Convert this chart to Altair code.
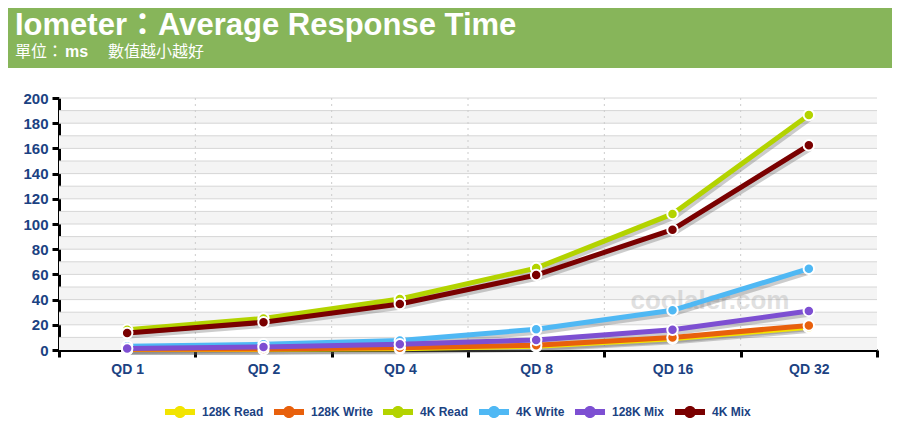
import altair as alt
import pandas as pd

# ---- data ----
qd_labels = ["QD 1", "QD 2", "QD 4", "QD 8", "QD 16", "QD 32"]
series_names = ["128K Read", "128K Write", "4K Read", "4K Write", "128K Mix", "4K Mix"]
series_colors = ["#f2e400", "#e8600c", "#b3d300", "#4fb8f4", "#7d4fd2", "#7a0000"]

read_128k = [0.3, 0.5, 1.0, 3.0, 9.0, 18.0]
write_128k = [0.5, 0.8, 1.8, 3.8, 10.0, 19.5]
read_4k = [16.0, 25.0, 40.5, 65.0, 108.0, 186.5]
write_4k = [3.0, 4.5, 7.5, 16.5, 31.5, 64.5]
mix_128k = [1.2, 2.4, 4.5, 8.0, 16.0, 31.0]
mix_4k = [13.5, 22.0, 36.5, 59.5, 95.5, 162.5]

title_text = "Iometer：Average Response Time"
sub_unit = "單位："
sub_ms = "ms"
sub_note = "數值越小越好"
watermark = "coolaler.com"

y_ticks = list(range(0, 201, 20))
y_grid = list(range(10, 201, 10))
band_lo = list(range(0, 200, 20))
x_bounds = [i - 0.5 for i in range(len(qd_labels) + 1)]

values = [read_128k, write_128k, read_4k, write_4k, mix_128k, mix_4k]
rows = []
for name, vals in zip(series_names, values):
    for i, (q, v) in enumerate(zip(qd_labels, vals)):
        rows.append({"series": name, "idx": i, "qd": q, "value": v})
df = pd.DataFrame(rows)

# ---- layout ----
W, H = 818, 252
PAD = {"left": 51, "top": 90, "right": 15, "bottom": 72}
FONT = "Liberation Sans, Arial, Noto Sans CJK TC, sans-serif"
BLUE = "#1b4282"

xscale = alt.Scale(domain=[-0.5, len(qd_labels) - 0.5], nice=False, zero=False)
yscale = alt.Scale(domain=[0, 200], nice=False)

label_arr = "[" + ",".join("'" + q + "'" for q in qd_labels) + "]"
xaxis = alt.Axis(
    values=x_bounds,
    labelExpr=label_arr + "[round(datum.value + 0.5)] || ''",
    labelOffset=W / len(qd_labels) / 2,
    labelFlush=False,
    labelOverlap=False,
    title=None,
    grid=False,
    domainColor="black",
    domainWidth=3,
    tickColor="black",
    tickWidth=3,
    tickSize=7,
    labelFont=FONT,
    labelFontSize=14,
    labelFontWeight="bold",
    labelColor=BLUE,
    labelPadding=5,
)
yaxis = alt.Axis(
    values=y_ticks,
    title=None,
    grid=False,
    domainColor="black",
    domainWidth=3,
    tickColor="black",
    tickWidth=3,
    tickSize=7,
    labelFont=FONT,
    labelFontSize=15,
    labelFontWeight="bold",
    labelColor=BLUE,
    labelPadding=4,
)

legend_path = "M-1,-0.2H1V0.2H-1Z M0.4,0A0.4,0.4 0 1,1 -0.4,0A0.4,0.4 0 1,1 0.4,0Z"
fill_enc = alt.Fill(
    "series:N",
    scale=alt.Scale(domain=series_names, range=series_colors),
    sort=series_names,
    legend=alt.Legend(
        title=None,
        orient="none",
        direction="horizontal",
        legendX=106,
        legendY=299,
        symbolType=legend_path,
        symbolSize=900,
        symbolStrokeWidth=0,
        labelFont=FONT,
        labelFontSize=12,
        labelFontWeight="bold",
        labelColor=BLUE,
        labelOffset=7,
        columnPadding=10,
    ),
)

X = alt.X("idx:Q", scale=xscale, axis=xaxis)
Y = alt.Y("value:Q", scale=yscale, axis=yaxis)

bands = alt.Chart(pd.DataFrame({"lo": band_lo, "hi": [b + 10 for b in band_lo]})).mark_rect(
    color="#f4f4f4"
).encode(y=alt.Y("lo:Q", scale=yscale, axis=yaxis), y2="hi:Q", x=alt.value(0), x2=alt.value(W))

hgrid = alt.Chart(pd.DataFrame({"g": y_grid})).mark_rule(color="#d6d6d6", strokeWidth=1).encode(
    y=alt.Y("g:Q", scale=yscale, axis=yaxis)
)

vgrid = alt.Chart(pd.DataFrame({"b": x_bounds[1:-1]})).mark_rule(
    color="#cccccc", strokeWidth=1, strokeDash=[2, 4]
).encode(x=alt.X("b:Q", scale=xscale, axis=xaxis))

dummy = pd.DataFrame({"a": [0]})
header = alt.Chart(dummy).mark_rect(color="#87b55a").encode(
    x=alt.value(-51), x2=alt.value(833), y=alt.value(-90), y2=alt.value(-30)
)
t_title = alt.Chart(dummy).mark_text(
    font=FONT, fontSize=31, fontWeight="bold", color="white", align="left", baseline="alphabetic"
).encode(x=alt.value(-44), y=alt.value(-63), text=alt.value(title_text))
t_unit = alt.Chart(dummy).mark_text(
    font=FONT, fontSize=16, color="white", align="left", baseline="alphabetic"
).encode(x=alt.value(-44), y=alt.value(-41), text=alt.value(sub_unit))
t_ms = alt.Chart(dummy).mark_text(
    font=FONT, fontSize=16, fontWeight="bold", color="white", align="left", baseline="alphabetic"
).encode(x=alt.value(6), y=alt.value(-41), text=alt.value(sub_ms))
t_note = alt.Chart(dummy).mark_text(
    font=FONT, fontSize=16, color="white", align="left", baseline="alphabetic"
).encode(x=alt.value(49), y=alt.value(-41), text=alt.value(sub_note))
t_wm = alt.Chart(dummy).mark_text(
    font=FONT, fontSize=26, fontWeight="bold", color="#9a9a9a", opacity=0.3, align="center", baseline="middle"
).encode(x=alt.value(651), y=alt.value(203), text=alt.value(watermark))

shadow = alt.Chart(df).mark_line(
    color="#555555", opacity=0.3, strokeWidth=5, xOffset=2, yOffset=3
).encode(x=X, y=Y, detail="series:N")

layers = [bands, hgrid, vgrid, header, t_title, t_unit, t_ms, t_note, t_wm, shadow]
for name, col in zip(series_names, series_colors):
    base = alt.Chart(df).transform_filter(alt.datum.series == name)
    line = base.mark_line(color=col, strokeWidth=5).encode(x=X, y=Y)
    pts = base.mark_point(filled=True, size=110, stroke="white", strokeWidth=2, opacity=1).encode(
        x=X, y=Y, fill=fill_enc
    )
    layers += [line, pts]

chart = alt.layer(*layers).properties(
    width=W,
    height=H,
    autosize=alt.AutoSizeParams(type="none"),
    padding=PAD,
    background="white",
).configure_view(stroke=None)

chart.save("out.html", embed_options={"renderer": "svg", "actions": False})
